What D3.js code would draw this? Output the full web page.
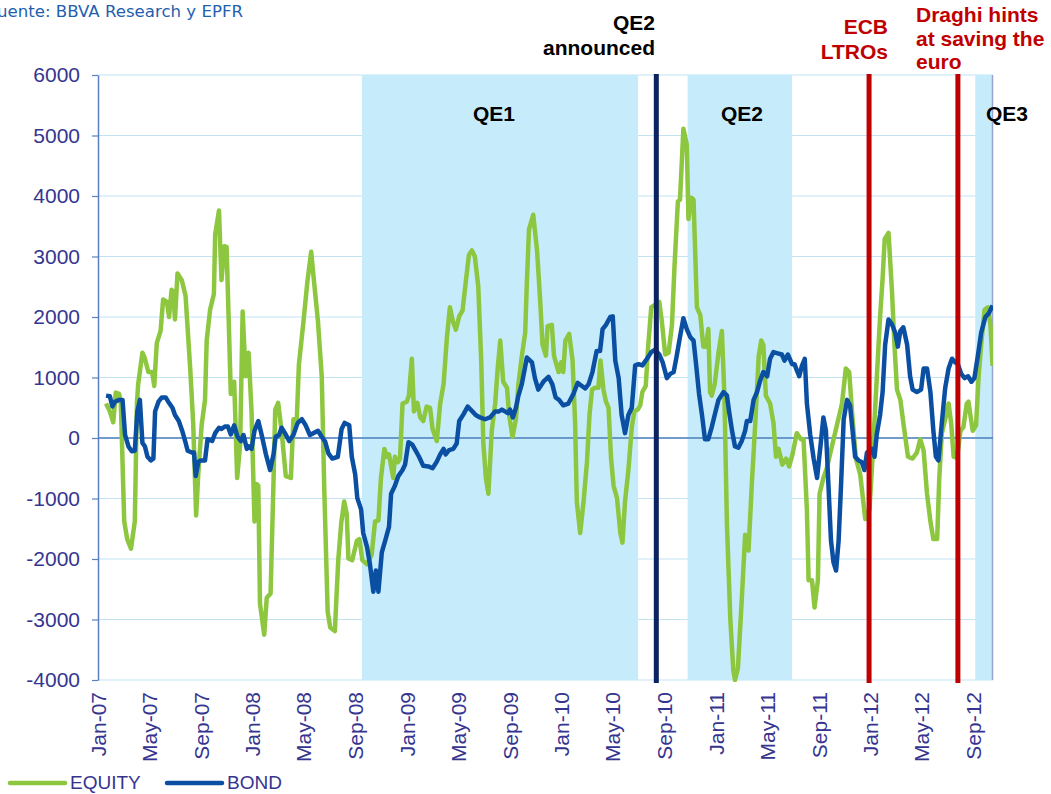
<!DOCTYPE html>
<html>
<head>
<meta charset="utf-8">
<script src="https://cdn.jsdelivr.net/npm/d3@7"></script>
<style>
  body { margin: 0; background: #fff; }
  svg { display: block; }
</style>
</head>
<body>
<div id="chart"></div>
<script>
// weekly flows, x = months since Jan-2007, y = value
const equity = [
  [0.62,570],[0.93,440],[1.19,260],[1.38,750],[1.63,730],[1.79,570],[2.04,-1380],[2.28,-1670],[2.56,-1830],[2.87,-1380],
  [3.01,570],[3.13,890],[3.44,1410],[3.65,1310],[3.91,1090],[4.22,1090],[4.37,860],[4.56,1570],[4.87,1770],[5.07,2290],
  [5.34,2250],[5.52,2000],[5.73,2450],[5.85,2420],[5.98,1960],[6.19,2720],[6.50,2610],[6.81,2350],[7.15,1150],[7.40,250],
  [7.61,-1280],[7.79,-600],[8.06,210],[8.31,630],[8.45,1610],[8.70,2120],[9.01,2380],[9.09,3360],[9.40,3760],[9.61,2610],
  [9.81,3170],[10.00,3160],[10.31,730],[10.59,930],[10.82,-660],[11.03,-110],[11.24,2090],[11.48,1020],[11.68,1410],[11.94,440],
  [12.14,-1380],[12.33,-760],[12.46,-790],[12.59,-2740],[12.90,-3250],[13.11,-2640],[13.42,-2570],[13.62,-700],[13.75,470],[14.01,580],
  [14.27,120],[14.58,-630],[14.97,-660],[15.17,310],[15.44,310],[15.62,1220],[15.95,1870],[16.26,2580],[16.55,3080],[16.73,2710],
  [17.07,1930],[17.38,1020],[17.58,-860],[17.85,-2870],[18.03,-3130],[18.41,-3190],[18.67,-2020],[18.88,-1410],[19.11,-1050],[19.32,-1250],
  [19.45,-1990],[19.76,-2020],[20.10,-1700],[20.30,-1670],[20.54,-2020],[20.88,-2090],[21.27,-1930],[21.52,-1380],[21.78,-1360],[21.99,-660],
  [22.25,-180],[22.43,-310],[22.61,-270],[22.94,-660],[23.08,-310],[23.29,-400],[23.47,-340],[23.64,570],[23.99,600],[24.16,700],
  [24.37,1310],[24.55,440],[24.81,580],[25.02,340],[25.28,280],[25.54,520],[25.80,500],[25.98,150],[26.32,-50],[26.57,570],
  [26.83,890],[27.09,1670],[27.35,2160],[27.56,1930],[27.79,1790],[28.05,2010],[28.31,2110],[28.57,2610],[28.83,3030],[29.04,3100],
  [29.29,3000],[29.55,2510],[29.76,1280],[29.94,-80],[30.12,-660],[30.33,-920],[30.59,120],[30.85,570],[31.06,1150],[31.24,1610],
  [31.49,930],[31.76,830],[31.93,380],[32.19,20],[32.45,310],[32.66,890],[32.92,1350],[33.18,1740],[33.31,2580],[33.49,3450],
  [33.82,3690],[34.09,3100],[34.34,2320],[34.52,1540],[34.79,1360],[34.94,1850],[35.25,1870],[35.43,1360],[35.77,1090],[35.96,1250],
  [36.15,1090],[36.29,1610],[36.60,1720],[36.85,1280],[37.06,250],[37.19,-1050],[37.45,-1570],[37.71,-1050],[37.97,-400],[38.17,380],
  [38.36,800],[38.62,830],[38.87,830],[39.03,1280],[39.26,800],[39.45,600],[39.65,500],[39.86,-340],[40.04,-790],[40.30,-990],
  [40.56,-1570],[40.74,-1730],[40.95,-1050],[41.20,-530],[41.47,180],[41.67,440],[41.93,470],[42.11,540],[42.29,760],[42.56,860],
  [42.76,1540],[42.97,2160],[43.18,2190],[43.59,2250],[43.80,1930],[44.06,1380],[44.31,1410],[44.58,1870],[44.78,2840],[45.04,3910],
  [45.22,3940],[45.48,5110],[45.74,4850],[45.87,3620],[46.08,3970],[46.25,3940],[46.52,2160],[46.77,2030],[47.03,1510],[47.22,1510],
  [47.42,1800],[47.55,760],[47.68,700],[47.89,890],[48.20,1410],[48.46,1770],[48.66,700],[48.85,-1440],[49.11,-3000],[49.36,-3840],
  [49.49,-4000],[49.70,-3800],[50.02,-2670],[50.27,-1600],[50.53,-1860],[50.79,-730],[51.05,250],[51.31,1350],[51.52,1610],[51.69,1540],
  [51.88,700],[52.21,570],[52.47,250],[52.66,-310],[52.86,-180],[53.17,-440],[53.44,-340],[53.69,-470],[53.95,-270],[54.29,80],
  [54.62,-20],[54.80,-20],[55.07,-1180],[55.19,-2350],[55.45,-2350],[55.66,-2800],[55.92,-2350],[56.04,-920],[56.36,-660],[56.62,-500],
  [57.79,570],[58.10,1150],[58.35,1090],[58.61,310],[58.87,-340],[59.21,-600],[59.60,-1340],[59.93,-1180],[60.16,-340],[60.50,960],
  [60.76,2000],[60.94,2640],[61.10,3290],[61.41,3390],[61.67,2450],[61.85,1540],[62.06,800],[62.32,630],[62.57,250],[62.91,-310],
  [63.27,-340],[63.61,-240],[63.87,-20],[64.13,-210],[64.39,-920],[64.65,-1380],[64.90,-1670],[65.17,-1670],[65.35,-660],[65.56,80],
  [65.81,310],[66.07,570],[66.28,250],[66.46,-310],[66.72,-330],[66.98,120],[67.23,180],[67.50,570],[67.62,600],[67.93,120],
  [68.20,210],[68.40,1020],[68.61,1540],[68.86,2120],[69.13,2160],[69.31,1870],[69.49,1190]
];

const bond = [
  [0.62,700],[0.93,690],[1.11,520],[1.32,600],[1.63,630],[1.89,630],[2.10,50],[2.35,-140],[2.62,-220],[2.87,-210],
  [3.05,440],[3.26,630],[3.44,-80],[3.65,-140],[3.86,-310],[4.12,-370],[4.30,-340],[4.43,440],[4.69,600],[4.95,670],
  [5.26,670],[5.46,600],[5.77,500],[5.98,380],[6.29,280],[6.55,120],[6.76,-50],[6.97,-210],[7.28,-240],[7.46,-240],
  [7.59,-630],[7.79,-400],[8.00,-370],[8.31,-370],[8.52,-20],[8.88,-50],[9.09,80],[9.40,170],[9.61,150],[9.87,190],
  [10.10,190],[10.33,60],[10.59,210],[10.85,20],[11.11,-50],[11.29,50],[11.55,-180],[11.73,-140],[11.94,-180],[12.14,120],
  [12.46,280],[12.72,50],[13.03,-270],[13.36,-530],[13.62,-270],[13.81,20],[14.06,50],[14.27,170],[14.53,80],[14.86,-50],
  [15.17,50],[15.52,250],[15.83,310],[16.14,210],[16.47,50],[16.73,80],[17.07,120],[17.38,20],[17.64,-60],[17.89,-260],
  [18.20,-340],[18.62,-310],[18.93,150],[19.14,250],[19.50,210],[19.71,-310],[19.97,-600],[20.15,-990],[20.44,-1180],[20.61,-1570],
  [20.88,-1800],[21.13,-2090],[21.39,-2540],[21.58,-2190],[21.78,-2540],[22.04,-1890],[22.35,-1670],[22.61,-1470],[22.77,-920],[23.08,-790],
  [23.33,-630],[23.64,-530],[23.85,-440],[24.11,-70],[24.42,-110],[24.69,-210],[24.94,-310],[25.28,-460],[25.66,-470],[25.98,-500],
  [26.32,-390],[26.57,-270],[26.83,-180],[27.02,-270],[27.27,-200],[27.61,-180],[27.87,-90],[28.05,280],[28.38,390],[28.73,520],
  [29.08,440],[29.35,380],[29.68,340],[30.07,310],[30.46,340],[30.85,440],[31.16,440],[31.37,470],[31.83,410],[32.01,470],
  [32.22,340],[32.45,500],[32.66,700],[32.92,890],[33.31,1330],[33.70,1250],[33.95,990],[34.21,800],[34.60,930],[34.99,1010],
  [35.30,890],[35.56,670],[35.82,630],[36.15,540],[36.54,570],[36.93,730],[37.27,910],[37.58,860],[37.84,820],[38.10,890],
  [38.41,1090],[38.75,1440],[39.01,1440],[39.18,1800],[39.45,1870],[39.78,2000],[39.99,2010],[40.17,1280],[40.43,990],[40.69,380],
  [40.95,80],[41.20,380],[41.47,500],[41.72,1200],[41.98,1220],[42.29,1200],[42.63,1310],[42.97,1420],[43.28,1460],[43.59,1380],
  [43.85,1250],[44.19,990],[44.44,1060],[44.70,1090],[44.96,1350],[45.22,1670],[45.48,1980],[45.74,1800],[46.00,1670],[46.25,1610],
  [46.46,1220],[46.70,730],[46.91,380],[47.16,-20],[47.42,-20],[47.68,180],[47.94,410],[48.20,630],[48.59,760],[48.85,700],
  [49.03,440],[49.24,120],[49.49,-140],[49.75,-160],[50.02,-50],[50.27,120],[50.40,280],[50.66,280],[50.92,630],[51.18,760],
  [51.44,960],[51.69,1090],[51.96,1020],[52.21,1310],[52.47,1420],[52.81,1400],[53.12,1380],[53.33,1280],[53.59,1380],[53.90,1220],
  [54.12,1220],[54.29,1120],[54.47,1020],[54.68,1190],[54.89,1310],[55.07,570],[55.32,50],[55.58,-340],[55.84,-660],[56.10,-140],
  [56.36,340],[56.54,120],[56.74,-790],[56.93,-1700],[57.13,-2060],[57.32,-2190],[57.52,-1700],[57.73,-730],[57.91,310],[58.17,630],
  [58.43,540],[58.69,-20],[58.82,-310],[59.08,-370],[59.34,-400],[59.54,-530],[59.73,-240],[60.12,-180],[60.32,-310],[60.50,50],
  [60.76,380],[60.94,760],[61.15,1540],[61.41,1960],[61.67,1880],[61.93,1740],[62.14,1510],[62.32,1770],[62.57,1830],[62.84,1540],
  [63.09,1020],[63.27,800],[63.61,760],[63.92,800],[64.13,1150],[64.39,1150],[64.65,760],[64.90,120],[65.09,-310],[65.29,-370],
  [65.56,250],[65.81,830],[66.07,1150],[66.33,1310],[66.59,1250],[66.80,1220],[67.05,1060],[67.31,990],[67.58,1020],[67.83,930],
  [68.09,990],[68.35,1350],[68.61,1740],[68.92,2000],[69.18,2060],[69.49,2190]
];

const yTicks = [-4000, -3000, -2000, -1000, 0, 1000, 2000, 3000, 4000, 5000, 6000];

const qePeriods = [
  { label: "QE1", start: "2008-09-16", end: "2010-07-01" },
  { label: "QE2", start: "2010-10-26", end: "2011-06-30" },
  { label: "QE3", start: "2012-09-05", end: "2012-10-17" }
];

const events = [
  { date: "2010-08-13", color: "#0b2460", lines: ["QE2", "announced"] },
  { date: "2011-12-29", color: "#c00000", lines: ["ECB", "LTROs"] },
  { date: "2012-07-26", color: "#c00000", lines: ["Draghi hints", "at saving the", "euro"] }
];

const sourceText = "Fuente: BBVA Research y EPFR";

// ------------------------------
// scales
// ------------------------------
const W = 1051, H = 794;
const plotLeft = 98, plotRight = 993, plotTop = 75, plotBottom = 680;
const font = "'Liberation Sans', Arial, sans-serif";
const parse = d3.timeParse("%Y-%m-%d");
const monthToDate = m => new Date(2007, 0, 1 + Math.round(m * 30.437));

const x = d3.scaleTime().domain([new Date(2007, 0, 1), new Date(2012, 9, 17)]).range([plotLeft, plotRight]);
const y = d3.scaleLinear().domain([-4000, 6000]).range([plotBottom, plotTop]);

const svg = d3.select("#chart").append("svg").attr("width", W).attr("height", H);

svg.append("defs").append("clipPath").attr("id", "plot-clip")
  .append("rect").attr("x", plotLeft).attr("y", plotTop - 1)
  .attr("width", plotRight - plotLeft).attr("height", plotBottom - plotTop + 3);

// gridlines
svg.selectAll(".grid")
  .data(yTicks)
  .enter()
  .append("line")
  .attr("x1", plotLeft).attr("x2", plotRight)
  .attr("y1", d => y(d)).attr("y2", d => y(d))
  .attr("stroke", "#c3e3f3")
  .attr("stroke-width", 1.2);

// QE shading
svg.selectAll(".qe")
  .data(qePeriods)
  .enter()
  .append("rect")
  .attr("x", d => x(parse(d.start)))
  .attr("width", d => x(parse(d.end)) - x(parse(d.start)))
  .attr("y", plotTop)
  .attr("height", plotBottom - plotTop)
  .attr("fill", "#c6ecfc");

// right edge line
svg.append("line")
  .attr("x1", plotRight - 0.5).attr("x2", plotRight - 0.5)
  .attr("y1", plotTop).attr("y2", plotBottom)
  .attr("stroke", "#98a4cf").attr("stroke-width", 1.5);

// zero line
svg.append("line")
  .attr("x1", plotLeft).attr("x2", plotRight)
  .attr("y1", y(0)).attr("y2", y(0))
  .attr("stroke", "#4a7ebb").attr("stroke-width", 1.5);

// y axis
const yAxis = svg.append("g")
  .attr("transform", `translate(${plotLeft},0)`)
  .call(d3.axisLeft(y).tickValues(yTicks).tickSize(6).tickSizeOuter(0).tickPadding(12).tickFormat(d => String(d)));
yAxis.select(".domain").attr("stroke", "#5b80c0").attr("stroke-width", 1.5);
yAxis.selectAll(".tick line").attr("stroke", "#5b80c0").attr("stroke-width", 1.2);
yAxis.selectAll("text")
  .attr("fill", "#35358f")
  .attr("font-family", font)
  .attr("font-size", "21px");

// x axis
const xAxis = svg.append("g")
  .attr("transform", `translate(0,${plotBottom})`)
  .call(d3.axisBottom(x).ticks(d3.timeMonth.every(4)).tickSize(0).tickFormat(d3.timeFormat("%b-%y")));
xAxis.select(".domain").remove();
xAxis.selectAll("text")
  .attr("transform", "rotate(-90)")
  .attr("x", -12)
  .attr("y", 0)
  .attr("dy", "0.35em")
  .attr("text-anchor", "end")
  .attr("fill", "#35358f")
  .attr("font-family", font)
  .attr("font-size", "21px");

// series
const line = d3.line()
  .x(d => x(monthToDate(d[0])))
  .y(d => y(d[1]));

const plot = svg.append("g").attr("clip-path", "url(#plot-clip)");

plot.append("path")
  .datum(equity)
  .attr("d", line)
  .attr("fill", "none")
  .attr("stroke", "#8dc63f")
  .attr("stroke-width", 4.5)
  .attr("stroke-linejoin", "round");

plot.append("path")
  .datum(bond)
  .attr("d", line)
  .attr("fill", "none")
  .attr("stroke", "#0b4fa3")
  .attr("stroke-width", 4.5)
  .attr("stroke-linejoin", "round");

// event lines
svg.selectAll(".event")
  .data(events)
  .enter()
  .append("line")
  .attr("x1", d => x(parse(d.date))).attr("x2", d => x(parse(d.date)))
  .attr("y1", plotTop - 1).attr("y2", plotBottom + 3)
  .attr("stroke", d => d.color)
  .attr("stroke-width", 5);

// event annotations
const annot = [
  { x: 655, y: 30, step: 25, anchor: "end", color: "#000" },
  { x: 888, y: 34, step: 25, anchor: "end", color: "#c00000" },
  { x: 916, y: 22, step: 23.5, anchor: "start", color: "#c00000" }
];
events.forEach((ev, i) => {
  const a = annot[i];
  const t = svg.append("text")
    .attr("x", a.x).attr("y", a.y)
    .attr("text-anchor", a.anchor)
    .attr("fill", a.color)
    .attr("font-family", font)
    .attr("font-size", "21px")
    .attr("font-weight", "bold");
  ev.lines.forEach((s, j) => {
    t.append("tspan").attr("x", a.x).attr("y", a.y + j * a.step).text(s);
  });
});

// QE labels
const qeLabelX = [494, 742, 1007];
svg.selectAll(".qe-label")
  .data(qePeriods)
  .enter()
  .append("text")
  .attr("x", (d, i) => qeLabelX[i])
  .attr("y", 121)
  .attr("text-anchor", "middle")
  .attr("font-family", font)
  .attr("font-size", "21px")
  .attr("font-weight", "bold")
  .attr("fill", "#000")
  .text(d => d.label);

// source (the leading letter runs off the left edge, as in the original)
svg.append("text")
  .attr("x", 243).attr("y", 17)
  .attr("text-anchor", "end")
  .attr("font-family", "'DejaVu Sans', Verdana, sans-serif")
  .attr("font-size", "16.6px")
  .attr("fill", "#1f5fae")
  .text(sourceText);

// legend
const legend = [
  { name: "EQUITY", color: "#8dc63f", x1: 10, x2: 65 },
  { name: "BOND", color: "#0b4fa3", x1: 167, x2: 222 }
];
legend.forEach(d => {
  svg.append("line")
    .attr("x1", d.x1).attr("x2", d.x2)
    .attr("y1", 783).attr("y2", 783)
    .attr("stroke", d.color).attr("stroke-width", 4.5).attr("stroke-linecap", "round");
  svg.append("text")
    .attr("x", d.x2 + 5).attr("y", 789)
    .attr("font-family", font)
    .attr("font-size", "19px")
    .attr("fill", "#35358f")
    .text(d.name);
});
</script>
</body>
</html>
